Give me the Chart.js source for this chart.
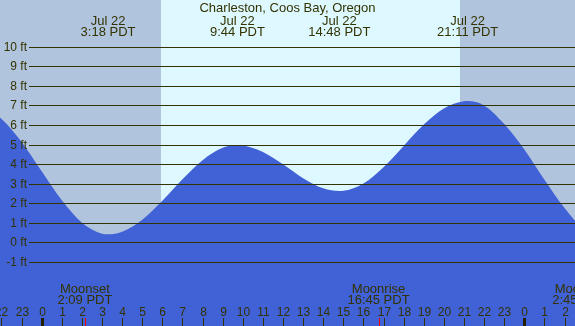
<!DOCTYPE html>
<html>
<head>
<meta charset="utf-8">
<script src="https://cdn.jsdelivr.net/npm/chart.js@4"></script>
<style>
  html, body { margin: 0; padding: 0; background: #b0c4de; }
  #tideChart { display: block; }
</style>
</head>
<body>
<canvas id="tideChart" width="575" height="326"></canvas>
<script>
const stationName = 'Charleston, Coos Bay, Oregon';

// tide height in ft, hours counted from midnight Jul 22 PDT
const tideHours = [-3, -2, -1, 0, 1, 2, 3, 3.3, 4, 5, 6, 7, 8, 9, 9.73, 10, 11, 12, 13, 14, 14.8, 15, 16, 17, 18, 19, 20, 21, 21.18, 22, 23, 24, 25, 26, 27, 28];
const tideFeet = [6.94, 6.31, 5.13, 3.63, 2.15, 1.0, 0.44, 0.41, 0.54, 1.15, 2.12, 3.22, 4.2, 4.83, 4.97, 4.95, 4.62, 3.99, 3.28, 2.76, 2.62, 2.63, 3.01, 3.84, 4.93, 6.02, 6.84, 7.21, 7.22, 7.0, 6.05, 4.75, 3.2, 1.75, 0.6, -0.1];

// high / low tide labels
const extremeHours = [3.3, 9.733, 14.8, 21.183];
const extremeDates = ['Jul 22', 'Jul 22', 'Jul 22', 'Jul 22'];
const extremeTimes = ['3:18 PDT', '9:44 PDT', '14:48 PDT', '21:11 PDT'];

// moon events
const moonHours = [2.15, 16.75, 26.75];
const moonEvents = ['Moonset', 'Moonrise', 'Moonset'];
const moonTimes = ['2:09 PDT', '16:45 PDT', '2:45 PDT'];

const sunriseHour = 5.93;
const sunsetHour = 20.8;

const feetTicks = [-1, 0, 1, 2, 3, 4, 5, 6, 7, 8, 9, 10];
const hourTicks = [-2, -1, 0, 1, 2, 3, 4, 5, 6, 7, 8, 9, 10, 11, 12, 13, 14, 15, 16, 17, 18, 19, 20, 21, 22, 23, 24, 25, 26];
const hourLabels = ['22', '23', '0', '1', '2', '3', '4', '5', '6', '7', '8', '9', '10', '11', '12', '13', '14', '15', '16', '17', '18', '19', '20', '21', '22', '23', '0', '1', '2'];
const midnightHours = [0, 24];

const textColor = '#333300';
const nightColor = '#b0c4de';
const dayColor = '#ddf8ff';
const waterColor = '#4161d6';
const bigFont = '13px "Liberation Sans", Arial, sans-serif';
const smallFont = '12px "Liberation Sans", Arial, sans-serif';

const tidePlugin = {
  id: 'tideDecor',
  beforeDraw(chart) {
    const { ctx, scales: { x } } = chart;
    const w = chart.width, h = chart.height;
    ctx.save();
    ctx.fillStyle = nightColor;
    ctx.fillRect(0, 0, w, h);
    const x1 = x.getPixelForValue(sunriseHour);
    const x2 = x.getPixelForValue(sunsetHour);
    ctx.fillStyle = dayColor;
    ctx.fillRect(x1, 0, x2 - x1, h);
    ctx.restore();
  },
  afterDatasetsDraw(chart) {
    const { ctx, scales: { x, y } } = chart;
    const w = chart.width, h = chart.height;
    ctx.save();

    // horizontal ft lines and labels
    ctx.strokeStyle = textColor;
    ctx.lineWidth = 1;
    ctx.fillStyle = textColor;
    ctx.font = smallFont;
    ctx.textAlign = 'right';
    ctx.textBaseline = 'middle';
    feetTicks.forEach(v => {
      const py = Math.round(y.getPixelForValue(v)) + 0.5;
      ctx.beginPath();
      ctx.moveTo(29, py);
      ctx.lineTo(w, py);
      ctx.stroke();
      ctx.fillText(v + ' ft', 27, py);
    });

    // title and extremes
    ctx.font = bigFont;
    ctx.textAlign = 'center';
    ctx.textBaseline = 'alphabetic';
    ctx.fillText(stationName, w / 2, 12);
    extremeHours.forEach((t, i) => {
      const px = x.getPixelForValue(t);
      ctx.fillText(extremeDates[i], px, 25);
      ctx.fillText(extremeTimes[i], px, 36);
    });

    // moon events
    moonHours.forEach((t, i) => {
      const px = x.getPixelForValue(t);
      ctx.fillText(moonEvents[i], px, 293);
      ctx.fillText(moonTimes[i], px, 304);
    });

    // hour ticks
    ctx.font = smallFont;
    hourTicks.forEach((t, i) => {
      const px = Math.round(x.getPixelForValue(t)) + 0.5;
      ctx.fillText(hourLabels[i], px, 316);
      ctx.beginPath();
      ctx.moveTo(px, 318);
      ctx.lineTo(px, h);
      ctx.stroke();
    });
    ctx.fillStyle = '#222200';
    midnightHours.forEach(t => {
      const px = Math.round(x.getPixelForValue(t));
      ctx.fillRect(px - 1, 318, 3, h - 318);
    });
    ctx.strokeStyle = '#ff0000';
    moonHours.forEach(t => {
      const px = Math.round(x.getPixelForValue(t)) + 0.5;
      ctx.beginPath();
      ctx.moveTo(px, 318);
      ctx.lineTo(px, h);
      ctx.stroke();
    });

    ctx.restore();
  }
};

const ctx = document.getElementById('tideChart').getContext('2d');
new Chart(ctx, {
  type: 'line',
  data: {
    datasets: [{
      data: tideHours.map((t, i) => ({ x: t, y: tideFeet[i] })),
      backgroundColor: waterColor,
      borderWidth: 0,
      pointRadius: 0,
      fill: 'start',
      cubicInterpolationMode: 'monotone'
    }]
  },
  options: {
    responsive: false,
    animation: false,
    devicePixelRatio: 1,
    layout: { padding: 0 },
    plugins: { legend: { display: false }, tooltip: { enabled: false } },
    scales: {
      x: { type: 'linear', min: -2.074, max: 26.52, display: false },
      y: { min: -4.28, max: 12.39, display: false }
    }
  },
  plugins: [tidePlugin]
});
</script>
</body>
</html>
